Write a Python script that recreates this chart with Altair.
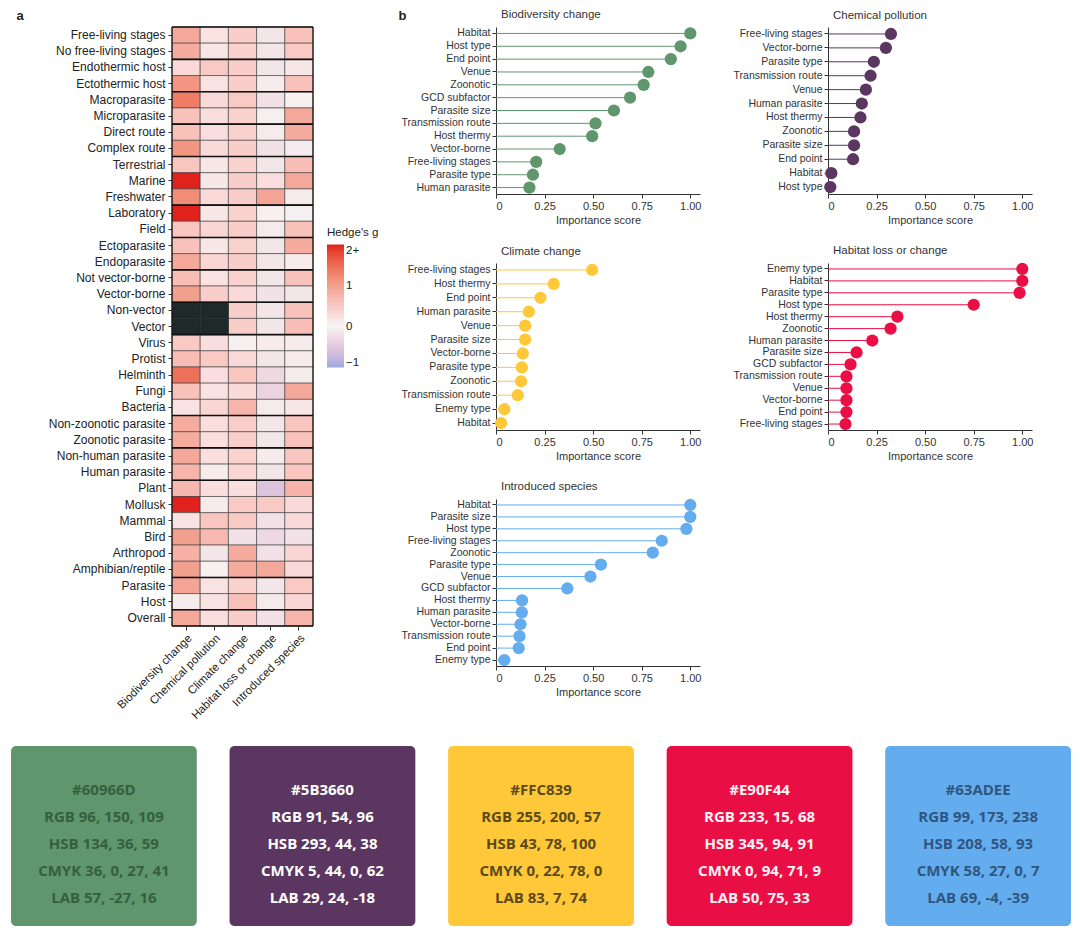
import altair as alt
import pandas as pd

FONT = "Liberation Sans"

# ---------------- panel a: heatmap ----------------
drivers = ["Biodiversity change", "Chemical pollution", "Climate change",
           "Habitat loss or change", "Introduced species"]
rows = ["Free-living stages", "No free-living stages", "Endothermic host", "Ectothermic host",
        "Macroparasite", "Microparasite", "Direct route", "Complex route", "Terrestrial",
        "Marine", "Freshwater", "Laboratory", "Field", "Ectoparasite", "Endoparasite",
        "Not vector-borne", "Vector-borne", "Non-vector", "Vector", "Virus", "Protist",
        "Helminth", "Fungi", "Bacteria", "Non-zoonotic parasite", "Zoonotic parasite",
        "Non-human parasite", "Human parasite", "Plant", "Mollusk", "Mammal", "Bird",
        "Arthropod", "Amphibian/reptile", "Parasite", "Host", "Overall"]
g_bc = [0.9, 0.85, 0.3, 1.1, 1.35, 0.6, 0.6, 1.1, 0.55, 2.0, 1.2, 2.0, 0.55, 0.6, 0.9, 0.65, 1.0,
        None, None, 0.5, 0.65, 1.45, 0.6, 0.2, 0.85, 0.85, 0.9, 0.75, 0.7, 2.0, 0.2, 1.0, 0.8, 1.0,
        0.95, -0.1, 0.9]
g_cp = [0.2, 0.15, 0.5, 0.2, 0.3, 0.25, 0.25, 0.3, 0.15, 0.15, 0.3, 0.15, 0.35, 0.15, 0.35, 0.2, 0.45,
        None, None, 0.25, 0.5, 0.25, 0.2, 0.35, 0.25, 0.25, 0.25, 0.1, 0.25, -0.1, 0.55, 0.7, -0.15,
        0.05, 0.2, 0.2, 0.25]
g_cc = [0.45, 0.4, 0.45, 0.45, 0.5, 0.4, 0.4, 0.45, 0.4, 0.45, 0.45, 0.4, 0.45, 0.4, 0.45, 0.4, 0.3,
        0.45, 0.45, -0.05, 0.3, 0.55, 0.3, 0.75, 0.45, 0.45, 0.4, 0.35, 0.25, 0.5, 0.5, -0.2, 0.85,
        0.85, 0.4, 0.6, 0.45]
g_hl = [-0.15, -0.15, -0.15, 0.1, -0.2, -0.05, -0.1, -0.2, -0.15, 0.25, 0.95, 0.05, -0.1, -0.15,
        -0.15, -0.15, -0.2, -0.15, -0.15, 0.1, -0.15, -0.3, -0.35, -0.1, -0.15, -0.15, -0.1, -0.15,
        -0.55, 0.5, -0.2, -0.3, -0.2, 0.9, -0.15, -0.1, -0.2]
g_is = [0.6, 0.5, 0.15, 0.6, 0.05, 0.9, 0.85, -0.1, 0.65, 0.9, -0.1, -0.05, 0.6, 0.85, 0.1, 0.6,
        -0.15, 0.6, 0.65, 0.1, 0.1, -0.1, 0.9, 0.15, 0.55, 0.6, 0.55, 0.55, 0.75, 0.3, 0.3, -0.2,
        0.35, 0.3, 0.5, 0.35, 0.75]
group_starts = ["Free-living stages", "Endothermic host", "Macroparasite", "Direct route",
                "Terrestrial", "Laboratory", "Ectoparasite", "Not vector-borne", "Non-vector",
                "Virus", "Non-zoonotic parasite", "Non-human parasite", "Plant", "Parasite",
                "Overall"]

recs = []
for d, col in zip(drivers, [g_bc, g_cp, g_cc, g_hl, g_is]):
    for r, v in zip(rows, col):
        recs.append({"driver": d, "row": r, "g": v})
hm = pd.DataFrame(recs)
hm_ok = hm[hm["g"].notna()]
hm_na = hm[hm["g"].isna()]

X_HM = alt.X("driver:N", sort=drivers, title=None,
             axis=alt.Axis(labelAngle=-45, labelAlign="right", labelBaseline="top",
                           labelFontSize=11.5, tickSize=4, domain=False, labelPadding=2))
Y_HM = alt.Y("row:N", sort=rows,
             axis=alt.Axis(title="a", titleAngle=0, titleX=-156, titleY=-8,
                           titleAlign="left", titleBaseline="alphabetic",
                           titleFontWeight="bold", titleFontSize=13,
                           labelFontSize=12, tickSize=4, domain=False, minExtent=157,
                           labelPadding=3))

cells = alt.Chart(hm_ok).mark_rect(stroke="#3a3a3a", strokeWidth=0.6).encode(
    x=X_HM, y=Y_HM,
    color=alt.Color("g:Q",
                    scale=alt.Scale(domain=[-1, 0, 1, 2],
                                    range=["#9aaadc", "#f7f4f4", "#f2a08e", "#e0211c"],
                                    clamp=True),
                    legend=alt.Legend(title="Hedge's g", orient="none", legendX=155, legendY=200,
                                      direction="vertical", gradientLength=123,
                                      gradientThickness=17, values=[-1, 0, 1, 2],
                                      labelExpr="datum.value == 2 ? '2+' : datum.label",
                                      titleFontWeight="normal", titleFontSize=11.5,
                                      labelFontSize=11.5, titlePadding=6)))
na_cells = alt.Chart(hm_na).mark_rect(color="#1e2a2a", stroke="#1e2a2a", strokeWidth=0.6).encode(
    x=alt.X("driver:N", sort=drivers), y=alt.Y("row:N", sort=rows))
seps = alt.Chart(pd.DataFrame({"row": group_starts})).mark_rule(
    color="#111111", strokeWidth=1.6).encode(y=alt.Y("row:N", sort=rows, bandPosition=0))
bottom = alt.Chart(pd.DataFrame({"row": [rows[-1]]})).mark_rule(
    color="#111111", strokeWidth=1.6).encode(y=alt.Y("row:N", sort=rows, bandPosition=1))
sides = alt.Chart(pd.DataFrame({"driver": [drivers[0]]})).mark_rule(
    color="#111111", strokeWidth=1.2).encode(x=alt.X("driver:N", sort=drivers, bandPosition=0))
sides2 = alt.Chart(pd.DataFrame({"driver": [drivers[-1]]})).mark_rule(
    color="#111111", strokeWidth=1.2).encode(x=alt.X("driver:N", sort=drivers, bandPosition=1))

heat = alt.layer(cells, na_cells, seps, bottom, sides, sides2).properties(width=141, height=599)

# ---------------- panel b: lollipops ----------------
bio_f = ["Habitat", "Host type", "End point", "Venue", "Zoonotic", "GCD subfactor", "Parasite size",
         "Transmission route", "Host thermy", "Vector-borne", "Free-living stages", "Parasite type",
         "Human parasite"]
bio_v = [1.0, 0.95, 0.9, 0.784, 0.76, 0.69, 0.607, 0.512, 0.495, 0.328, 0.207, 0.19, 0.172]

chem_f = ["Free-living stages", "Vector-borne", "Parasite type", "Transmission route", "Venue",
          "Human parasite", "Host thermy", "Zoonotic", "Parasite size", "End point", "Habitat",
          "Host type"]
chem_v = [0.324, 0.298, 0.236, 0.219, 0.195, 0.174, 0.167, 0.134, 0.134, 0.129, 0.017, 0.012]

clim_f = ["Free-living stages", "Host thermy", "End point", "Human parasite", "Venue",
          "Parasite size", "Vector-borne", "Parasite type", "Zoonotic", "Transmission route",
          "Enemy type", "Habitat"]
clim_v = [0.495, 0.297, 0.229, 0.169, 0.15, 0.15, 0.138, 0.133, 0.129, 0.112, 0.043, 0.026]

hab_f = ["Enemy type", "Habitat", "Parasite type", "Host type", "Host thermy", "Zoonotic",
         "Human parasite", "Parasite size", "GCD subfactor", "Transmission route", "Venue",
         "Vector-borne", "End point", "Free-living stages"]
hab_v = [1.0, 1.0, 0.986, 0.75, 0.357, 0.322, 0.228, 0.147, 0.116, 0.095, 0.095, 0.095, 0.095, 0.09]

intro_f = ["Habitat", "Parasite size", "Host type", "Free-living stages", "Zoonotic",
           "Parasite type", "Venue", "GCD subfactor", "Host thermy", "Human parasite",
           "Vector-borne", "Transmission route", "End point", "Enemy type"]
intro_v = [1.0, 1.0, 0.98, 0.853, 0.807, 0.54, 0.486, 0.367, 0.134, 0.133, 0.126, 0.121, 0.117,
           0.043]

pal = {"bio": "#60966D", "chem": "#5B3660", "clim": "#FFC839", "hab": "#E90F44", "intro": "#63ADEE"}


def lollipop(title, factors, scores, color, extent, letter=None):
    df = pd.DataFrame({"factor": factors, "score": scores})
    ax = dict(labelFontSize=10.5, tickSize=4, labelPadding=2, minExtent=extent, labelColor="#333")
    if letter:
        ax.update(title=letter, titleAngle=0, titleX=-98, titleY=-8, titleAlign="left",
                  titleBaseline="alphabetic", titleFontWeight="bold", titleFontSize=13)
        toff = -11
    else:
        ax.update(title=None)
        toff = 6
    y = alt.Y("factor:N", sort=factors, axis=alt.Axis(**ax))
    x = alt.X("score:Q", scale=alt.Scale(domain=[0, 1.05], nice=False, zero=True),
              axis=alt.Axis(values=[0, 0.25, 0.5, 0.75, 1.0], tickSize=4, labelFontSize=11,
                            labelColor="#333",
                            labelExpr="datum.value == 0 ? '0' : format(datum.value, '.2f')",
                            title="Importance score", titleFontSize=11, titlePadding=3,
                            titleColor="#333"))
    base = alt.Chart(df)
    stem = base.mark_rule(color=color, strokeWidth=1).encode(x=x, x2=alt.datum(0), y=y)
    dot = base.mark_circle(color=color, size=150, opacity=1).encode(
        x=alt.X("score:Q"), y=alt.Y("factor:N", sort=factors))
    return alt.layer(stem, dot).properties(
        width=204, height=167,
        title=alt.TitleParams(title, anchor="start", frame="group", dx=5, fontSize=11.5,
                              color="#333", fontWeight="normal", offset=toff))


grid = alt.concat(
    lollipop("Biodiversity change", bio_f, bio_v, pal["bio"], 96, letter="b"),
    lollipop("Chemical pollution", chem_f, chem_v, pal["chem"], 98),
    lollipop("Climate change", clim_f, clim_v, pal["clim"], 96),
    lollipop("Habitat loss or change", hab_f, hab_v, pal["hab"], 98),
    lollipop("Introduced species", intro_f, intro_v, pal["intro"], 96),
    columns=2, spacing=alt.RowColnumber(row=20, column=29)
).resolve_scale(x="independent", y="independent")

# invisible spacer so that the row's origin sits at the page's left edge
spacer = alt.Chart(pd.DataFrame({"s": [0]})).mark_point(opacity=0).encode(
    x=alt.X("s:Q", axis=None), y=alt.Y("s:Q", axis=None)).properties(width=1, height=1)

top = alt.hconcat(spacer, alt.hconcat(heat, grid, spacing=19).resolve_scale(color="independent"),
                  spacing=0)

# ---------------- colour swatches ----------------
sw_hex = ["#60966D", "#5B3660", "#FFC839", "#E90F44", "#63ADEE"]
sw_rgb = ["RGB 96, 150, 109", "RGB 91, 54, 96", "RGB 255, 200, 57", "RGB 233, 15, 68",
          "RGB 99, 173, 238"]
sw_hsb = ["HSB 134, 36, 59", "HSB 293, 44, 38", "HSB 43, 78, 100", "HSB 345, 94, 91",
          "HSB 208, 58, 93"]
sw_cmyk = ["CMYK 36, 0, 27, 41", "CMYK 5, 44, 0, 62", "CMYK 0, 22, 78, 0", "CMYK 0, 94, 71, 9",
           "CMYK 58, 27, 0, 7"]
sw_lab = ["LAB 57, -27, 16", "LAB 29, 24, -18", "LAB 83, 7, 74", "LAB 50, 75, 33",
          "LAB 69, -4, -39"]
sw_txt = ["#35603f", "#ffffff", "#5c4a1a", "#fff2f5", "#2f5680"]

sw_df = pd.DataFrame({"hex": sw_hex})
line_recs = []
for i, h in enumerate(sw_hex):
    for j, lab in enumerate([h, sw_rgb[i], sw_hsb[i], sw_cmyk[i], sw_lab[i]]):
        line_recs.append({"hex": h, "line": j, "label": lab, "tc": sw_txt[i]})
lines_df = pd.DataFrame(line_recs)

XS = alt.X("hex:N", sort=sw_hex, axis=None,
           scale=alt.Scale(paddingInner=0.15, paddingOuter=0))
boxes = alt.Chart(sw_df).mark_rect(cornerRadius=5).encode(
    x=XS, color=alt.Color("hex:N", scale=None))
labels = alt.Chart(lines_df).mark_text(font="Open Sans", fontWeight="bold", fontSize=15).encode(
    x=alt.X("hex:N", sort=sw_hex),
    y=alt.Y("line:Q", axis=None,
            scale=alt.Scale(domain=[-1.63, 5.03], reverse=True, nice=False, zero=False)),
    text="label:N", color=alt.Color("tc:N", scale=None))
swatches = alt.layer(boxes, labels).properties(width=1060, height=180)

chart = alt.concat(top, swatches, columns=1, spacing=24, align="none").properties(
    padding=0
).configure(font=FONT).configure_view(stroke=None).configure_axis(
    labelFont=FONT, titleFont=FONT, labelColor="#222", titleColor="#222",
    domainColor="#333", tickColor="#333", grid=False, titleFontWeight="normal"
).configure_legend(labelFont=FONT, titleFont=FONT, labelColor="#222", titleColor="#222"
).configure_title(font=FONT)

chart.save("out.html", embed_options={"renderer": "svg", "actions": False})
